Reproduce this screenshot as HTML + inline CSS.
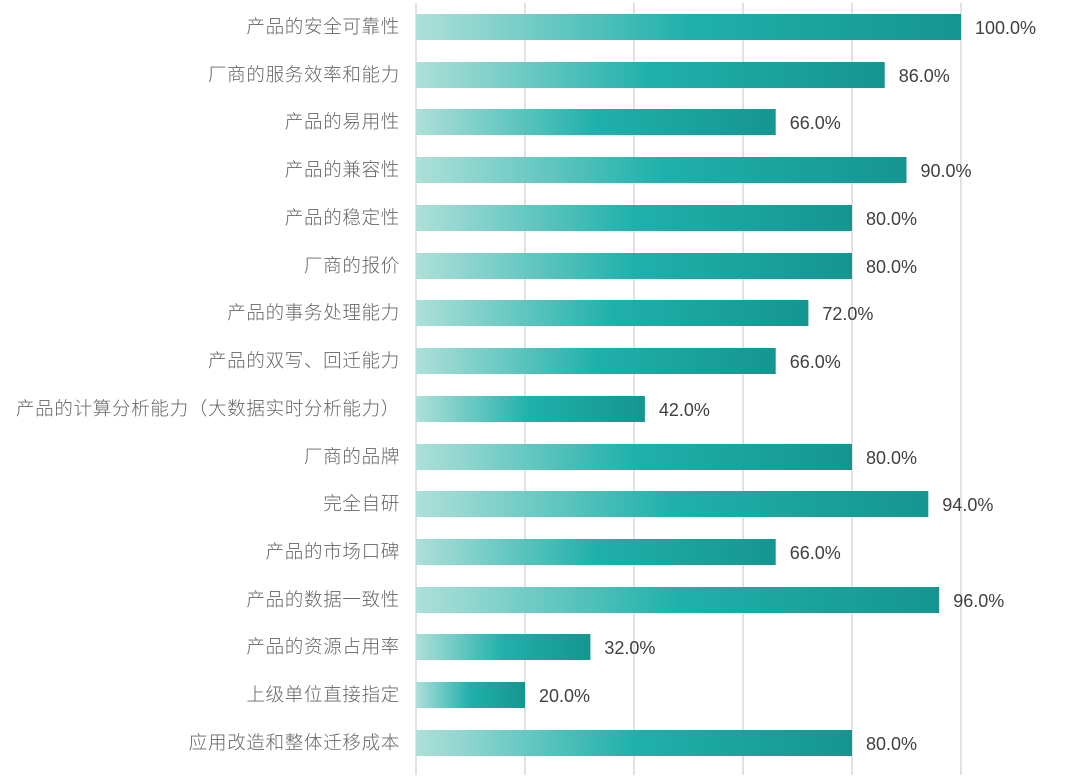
<!DOCTYPE html>
<html><head><meta charset="utf-8"><style>
body{margin:0;background:#fff;}
</style></head><body>
<svg width="1080" height="775" xmlns="http://www.w3.org/2000/svg" font-family="'Liberation Sans','Noto Sans CJK SC',sans-serif">
<defs><linearGradient id="g" x1="0" x2="1" y1="0" y2="0">
<stop offset="0" stop-color="#aee0d9"/><stop offset="0.5" stop-color="#20b0ab"/><stop offset="1" stop-color="#169590"/></linearGradient></defs>
<g stroke="#d9d9d9" stroke-width="1.5">
<line x1="416" y1="3" x2="416" y2="775"/><line x1="525" y1="3" x2="525" y2="775"/><line x1="634" y1="3" x2="634" y2="775"/><line x1="743" y1="3" x2="743" y2="775"/><line x1="852" y1="3" x2="852" y2="775"/><line x1="961" y1="3" x2="961" y2="775"/>
</g>
<g fill="url(#g)">
<rect x="416" y="14" width="545" height="26"/>
<rect x="416" y="62" width="468.7" height="26"/>
<rect x="416" y="109" width="359.7" height="26"/>
<rect x="416" y="157" width="490.5" height="26"/>
<rect x="416" y="205" width="436" height="26"/>
<rect x="416" y="253" width="436" height="26"/>
<rect x="416" y="300" width="392.4" height="26"/>
<rect x="416" y="348" width="359.7" height="26"/>
<rect x="416" y="396" width="228.9" height="26"/>
<rect x="416" y="444" width="436" height="26"/>
<rect x="416" y="491" width="512.3" height="26"/>
<rect x="416" y="539" width="359.7" height="26"/>
<rect x="416" y="587" width="523.2" height="26"/>
<rect x="416" y="634" width="174.4" height="26"/>
<rect x="416" y="682" width="109" height="26"/>
<rect x="416" y="730" width="436" height="26"/>
</g>
<g font-size="18.5" fill="#666" text-anchor="end" letter-spacing="0.7" font-family="'Noto Sans CJK SC',sans-serif" font-weight="300">
<text x="400" y="33">产品的安全可靠性</text>
<text x="400" y="81">厂商的服务效率和能力</text>
<text x="400" y="128">产品的易用性</text>
<text x="400" y="176">产品的兼容性</text>
<text x="400" y="224">产品的稳定性</text>
<text x="400" y="272">厂商的报价</text>
<text x="400" y="319">产品的事务处理能力</text>
<text x="400" y="367">产品的双写、回迁能力</text>
<text x="400" y="415">产品的计算分析能力（大数据实时分析能力）</text>
<text x="400" y="463">厂商的品牌</text>
<text x="400" y="510">完全自研</text>
<text x="400" y="558">产品的市场口碑</text>
<text x="400" y="606">产品的数据一致性</text>
<text x="400" y="653">产品的资源占用率</text>
<text x="400" y="701">上级单位直接指定</text>
<text x="400" y="749">应用改造和整体迁移成本</text>
</g>
<g font-size="18" fill="#404040">
<text x="975" y="34">100.0%</text>
<text x="898.7" y="82">86.0%</text>
<text x="789.7" y="129">66.0%</text>
<text x="920.5" y="177">90.0%</text>
<text x="866" y="225">80.0%</text>
<text x="866" y="273">80.0%</text>
<text x="822.4" y="320">72.0%</text>
<text x="789.7" y="368">66.0%</text>
<text x="658.9" y="416">42.0%</text>
<text x="866" y="464">80.0%</text>
<text x="942.3" y="511">94.0%</text>
<text x="789.7" y="559">66.0%</text>
<text x="953.2" y="607">96.0%</text>
<text x="604.4" y="654">32.0%</text>
<text x="539" y="702">20.0%</text>
<text x="866" y="750">80.0%</text>
</g>
</svg>
</body></html>
